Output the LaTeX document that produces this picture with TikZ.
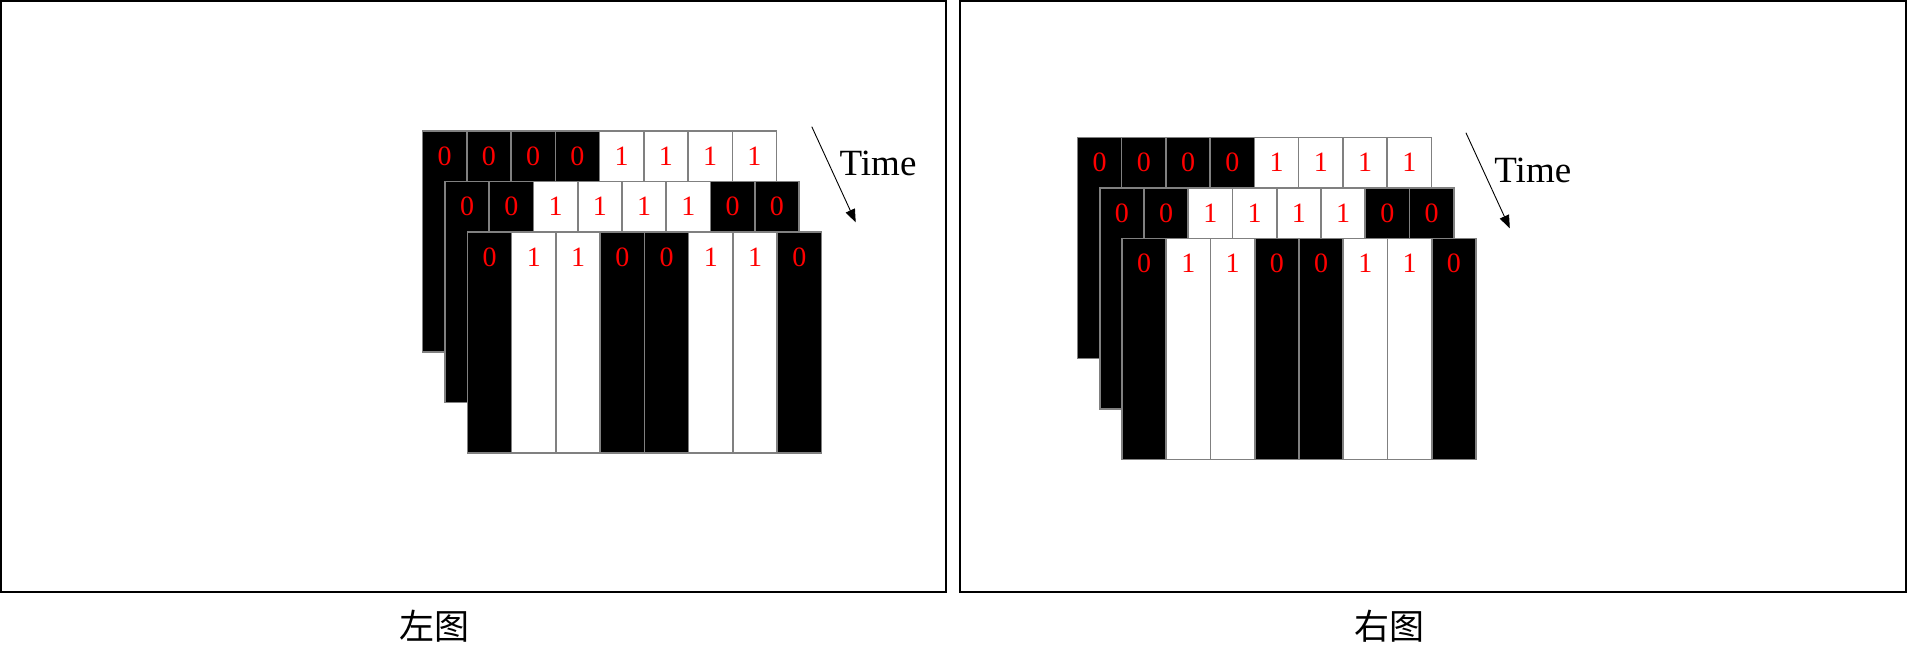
\documentclass[tikz,border=0pt]{standalone}
\usepackage{fontspec}
\setmainfont{Liberation Serif}
\newfontfamily\cjk{Noto Sans CJK SC}
\usetikzlibrary{arrows.meta}
\tikzset{
  panel/.style={draw=black,line width=2pt},
  col/.style={rectangle,draw=gray,line width=1.6pt,minimum width=44.25pt,minimum height=221pt,inner sep=0pt,anchor=north west},
  bit/.style={text=red,font=\fontsize{28}{28}\selectfont,inner sep=0pt},
  timearrow/.style={line width=0.9pt,-{Triangle[length=13pt,width=10pt]}},
  timelabel/.style={font=\fontsize{37}{37}\selectfont,inner sep=0pt},
  caption/.style={font=\cjk\fontsize{35}{35}\selectfont,inner sep=0pt}
}
\newcommand\stacklayer[4]{%
  \foreach \b [count=\i] in {#4} {
    \ifnum\b=0 \def\fc{black}\else\def\fc{white}\fi
    \node[col,fill=\fc] (#1c\i) at ({#2+(\i-1)*44.25},#3) {};
    \node[bit] (#1d\i) at ([yshift=-26pt]#1c\i.north) {\b};
  }
}
\begin{document}
\begin{tikzpicture}[x=1pt,y=-1pt]
\useasboundingbox (0,0) rectangle (1907,672);
% panels
\draw[panel] (1,1) rectangle (946,592);
\draw[panel] (960,1) rectangle (1905.5,592);
% left stack
\stacklayer{LA}{421.8}{130}{0,0,0,0,1,1,1,1}
\stacklayer{LB}{444.2}{180.5}{0,0,1,1,1,1,0,0}
\stacklayer{LC}{466.6}{231}{0,1,1,0,0,1,1,0}
\coordinate (Ls) at (811.8,126.7);
\coordinate (Le) at (855.7,222.3);
\draw[timearrow] (Ls) -- (Le);
\node[timelabel] (Lt) at (878,163.3) {Time};
% right stack
\stacklayer{RA}{1076.6}{136.7}{0,0,0,0,1,1,1,1}
\stacklayer{RB}{1098.9}{187.2}{0,0,1,1,1,1,0,0}
\stacklayer{RC}{1121.2}{237.7}{0,1,1,0,0,1,1,0}
\coordinate (Rs) at (1465.9,132.7);
\coordinate (Re) at (1509.8,228.3);
\draw[timearrow] (Rs) -- (Re);
\node[timelabel] (Rt) at (1532.8,170) {Time};
% captions
\node[caption] (capL) at (434.5,626) {左图};
\node[caption] (capR) at (1389.5,626) {右图};
\end{tikzpicture}
\end{document}
